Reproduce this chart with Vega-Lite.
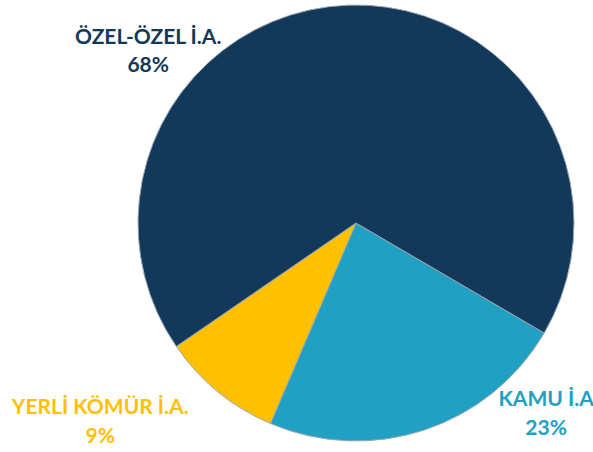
{
  "$schema": "https://vega.github.io/schema/vega-lite/v6.json",
  "autosize": {"type": "none"},
  "width": 436,
  "height": 436,
  "padding": {"left": 138, "top": 5, "right": 19, "bottom": 11},
  "background": "white",
  "view": {"stroke": null},
  "data": {
    "values": [
      {"kategori": "KAMU İ.A", "pay": 23, "etiket": "KAMU İ.A\n23%", "sira": 1},
      {"kategori": "YERLİ KÖMÜR İ.A.", "pay": 9, "etiket": "YERLİ KÖMÜR İ.A.\n9%", "sira": 2},
      {"kategori": "ÖZEL-ÖZEL İ.A.", "pay": 68, "etiket": "ÖZEL-ÖZEL İ.A.\n68%", "sira": 3}
    ]
  },
  "encoding": {
    "theta": {"field": "pay", "type": "quantitative", "stack": true, "scale": {"range": [2.0997, 8.3829]}},
    "order": {"field": "sira", "type": "ordinal"},
    "color": {
      "field": "kategori",
      "type": "nominal",
      "scale": {
        "domain": ["KAMU İ.A", "YERLİ KÖMÜR İ.A.", "ÖZEL-ÖZEL İ.A."],
        "range": ["#20A0C2", "#FFC000", "#12385A"]
      },
      "legend": null
    }
  },
  "layer": [
    {"mark": {"type": "arc", "stroke": "#9aa6b2", "strokeWidth": 1}},
    {
      "mark": {"type": "text", "radius": 268, "dx": -198, "dy": 83, "font": "Lato", "fontWeight": "bold", "fontSize": 21, "lineBreak": "\n", "lineHeight": 28, "align": "center", "baseline": "middle"},
      "encoding": {"text": {"condition": {"test": "datum.sira == 3", "field": "etiket"}, "value": ""}}
    },
    {
      "mark": {"type": "text", "radius": 268, "dx": 106, "dy": -77, "font": "Lato", "fontWeight": "bold", "fontSize": 21, "lineBreak": "\n", "lineHeight": 29, "align": "center", "baseline": "middle"},
      "encoding": {"text": {"condition": {"test": "datum.sira == 1", "field": "etiket"}, "value": ""}}
    },
    {
      "mark": {"type": "text", "radius": 268, "dx": -86, "dy": -22, "font": "Lato", "fontWeight": "bold", "fontSize": 21, "lineBreak": "\n", "lineHeight": 29, "align": "center", "baseline": "middle"},
      "encoding": {"text": {"condition": {"test": "datum.sira == 2", "field": "etiket"}, "value": ""}}
    }
  ]
}
